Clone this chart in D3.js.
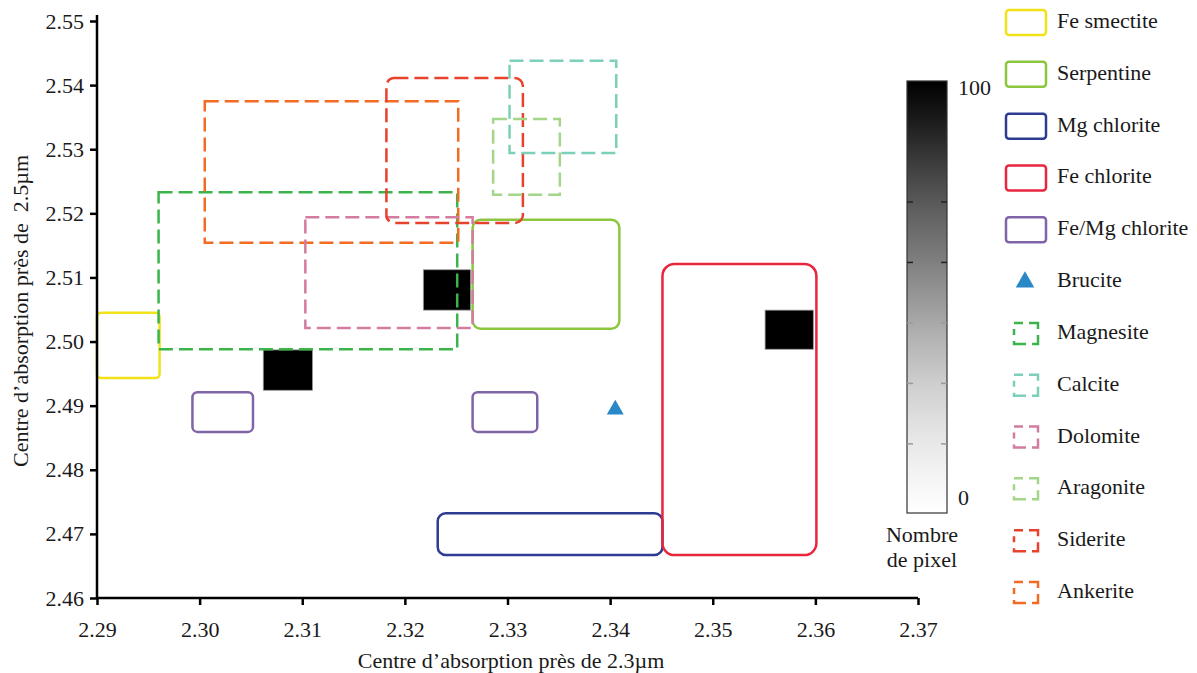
<!DOCTYPE html>
<html><head><meta charset="utf-8">
<script src="https://cdn.jsdelivr.net/npm/d3@7"></script>
<style>body{margin:0;background:#fff}svg{display:block}</style>
</head><body><svg id="c" width="1197" height="673"></svg>
<script>
// ---- data ----
const xTicks = [2.29, 2.30, 2.31, 2.32, 2.33, 2.34, 2.35, 2.36, 2.37];
const yTicks = [2.46, 2.47, 2.48, 2.49, 2.50, 2.51, 2.52, 2.53, 2.54, 2.55];

const mineralNames  = ["Fe smectite","Serpentine","Mg chlorite","Fe chlorite","Fe/Mg chlorite","Brucite","Magnesite","Calcite","Dolomite","Aragonite","Siderite","Ankerite"];
const mineralColors = ["#f1e21a","#8cc63f","#2e3b92","#e8273f","#8064a8","#2a88c8","#3cb44b","#7ccfb9","#d47ba0","#a3d58a","#e8412c","#f26b22"];
const mineralDashed = [false,false,false,false,false,false,true,true,true,true,true,true];

// reference regions (µm)
const regionMineral = ["Fe smectite","Fe/Mg chlorite","Fe/Mg chlorite","Mg chlorite","Fe chlorite","Serpentine","Magnesite","Ankerite","Dolomite","Siderite","Aragonite","Calcite"];
const regionX0 = [2.2900, 2.2993, 2.3266, 2.3232, 2.3451, 2.3266, 2.2960, 2.3005, 2.3103, 2.3182, 2.3286, 2.3302];
const regionX1 = [2.2961, 2.3052, 2.3329, 2.3451, 2.3601, 2.3409, 2.3251, 2.3252, 2.3266, 2.3315, 2.3351, 2.3406];
const regionY0 = [2.4943, 2.4859, 2.4859, 2.4667, 2.4667, 2.5020, 2.4988, 2.5154, 2.5021, 2.5185, 2.5229, 2.5294];
const regionY1 = [2.5045, 2.4921, 2.4921, 2.4732, 2.5121, 2.5190, 2.5233, 2.5375, 2.5194, 2.5411, 2.5347, 2.5438];
const regionRound = [4, 5, 5, 8, 12, 8, 0, 0, 0, 8, 0, 0];

// brucite point
const bruciteX = [2.3405];
const bruciteY = [2.4894];

// pixel density cells
const cellX0 = [2.3062, 2.3218, 2.3551];
const cellX1 = [2.3110, 2.3264, 2.3598];
const cellY0 = [2.4924, 2.5049, 2.4988];
const cellY1 = [2.4987, 2.5112, 2.5049];
const cellCount = [100, 100, 100];

const colorDomain = [0, 100];
const colorbarTicks = [16, 30, 44, 58, 72];

// ---- drawing ----
const FONT = "Liberation Serif";
const svg = d3.select("#c");
const x = d3.scaleLinear().domain([2.29, 2.37]).range([97, 918]);
const y = d3.scaleLinear().domain([2.46, 2.55]).range([598, 21]);
const color = d3.scaleSequential(d3.interpolateGreys).domain(colorDomain);

// cells
const cells = d3.range(cellX0.length);
svg.append("g").selectAll("rect").data(cells).join("rect")
  .attr("x", i => x(cellX0[i])).attr("y", i => y(cellY1[i]))
  .attr("width", i => x(cellX1[i]) - x(cellX0[i]))
  .attr("height", i => y(cellY0[i]) - y(cellY1[i]))
  .attr("fill", i => color(cellCount[i])).attr("stroke", "#999").attr("stroke-width", 0.8);

// regions: solid first, then dashed
const regions = d3.range(regionMineral.length)
  .sort((a, b) => mineralDashed[mineralNames.indexOf(regionMineral[a])] - mineralDashed[mineralNames.indexOf(regionMineral[b])]);
svg.append("g").selectAll("rect").data(regions).join("rect")
  .attr("x", i => x(regionX0[i])).attr("y", i => y(regionY1[i]))
  .attr("width", i => x(regionX1[i]) - x(regionX0[i]))
  .attr("height", i => y(regionY0[i]) - y(regionY1[i]))
  .attr("rx", i => regionRound[i]).attr("ry", i => regionRound[i])
  .attr("fill", "none")
  .attr("stroke", i => mineralColors[mineralNames.indexOf(regionMineral[i])])
  .attr("stroke-width", 2.5)
  .attr("stroke-dasharray", i => mineralDashed[mineralNames.indexOf(regionMineral[i])] ? "14,6" : null);

// brucite
const tri = d3.symbol().type(d3.symbolTriangle).size(125);
svg.append("g").selectAll("path").data(bruciteX).join("path")
  .attr("d", tri).attr("transform", (d, i) => `translate(${x(d)},${y(bruciteY[i])})`)
  .attr("fill", mineralColors[5]);

// axes
const fsTick = 22, fsTitle = 22, fsLeg = 22;
const xAxis = svg.append("g").attr("transform", "translate(0,598)")
  .call(d3.axisBottom(x).tickValues(xTicks).tickFormat(d3.format(".2f")).tickSize(7).tickSizeOuter(0));
const yAxis = svg.append("g").attr("transform", "translate(97,0)")
  .call(d3.axisLeft(y).tickValues(yTicks).tickFormat(d3.format(".2f")).tickSize(7).tickSizeOuter(0));
[xAxis, yAxis].forEach(a => {
  a.attr("font-family", FONT).attr("font-size", fsTick);
  a.select(".domain").attr("stroke", "#000").attr("stroke-width", 2.5);
  a.selectAll(".tick line").attr("stroke", "#000").attr("stroke-width", 2.5);
  a.selectAll(".tick text").attr("font-family", FONT).attr("font-size", fsTick).attr("fill", "#1a1a1a");
});
xAxis.select(".domain").attr("d", "M97,0H918");
yAxis.select(".domain").attr("d", "M0,598V15");
xAxis.selectAll(".tick text").attr("y", 23).attr("dy", "0.71em");
yAxis.selectAll(".tick text").attr("x", -13);

const txt = (xx, yy, s, size, anchor) => svg.append("text").attr("x", xx).attr("y", yy)
  .attr("text-anchor", anchor || "start").attr("font-family", FONT).attr("font-size", size)
  .attr("fill", "#1a1a1a").text(s);

txt(511, 668, "Centre d\u2019absorption près de 2.3µm", fsTitle, "middle");
svg.append("text").attr("transform", "translate(28,311) rotate(-90)").attr("text-anchor", "middle")
  .attr("font-family", FONT).attr("font-size", fsTitle).style("white-space", "pre").attr("fill", "#1a1a1a")
  .text("Centre d\u2019absorption près de  2.5µm");

// colorbar
const cb = d3.scaleLinear().domain(colorDomain).range([513, 81]);
const defs = svg.append("defs");
const grad = defs.append("linearGradient").attr("id", "g").attr("x1", 0).attr("x2", 0).attr("y1", 1).attr("y2", 0);
d3.range(0, 1.001, 0.1).forEach(t => grad.append("stop").attr("offset", t).attr("stop-color", color(colorDomain[0] + t * (colorDomain[1] - colorDomain[0]))));
svg.append("rect").attr("x", 907).attr("y", cb(100)).attr("width", 40).attr("height", cb(0) - cb(100))
  .attr("fill", "url(#g)").attr("stroke", "#333").attr("stroke-width", 1.2);
const cbt = svg.append("g");
colorbarTicks.forEach(v => {
  const c = v >= 58 ? "#222" : "#999";
  cbt.append("line").attr("x1", 907).attr("x2", 913).attr("y1", cb(v)).attr("y2", cb(v)).attr("stroke", c).attr("stroke-width", 1.5);
  cbt.append("line").attr("x1", 941).attr("x2", 947).attr("y1", cb(v)).attr("y2", cb(v)).attr("stroke", c).attr("stroke-width", 1.5);
});
txt(958, cb(100) + 14, colorDomain[1], fsTick);
txt(958, cb(0) - 8, colorDomain[0], fsTick);
txt(922, 542, "Nombre", fsLeg, "middle");
txt(922, 567, "de pixel", fsLeg, "middle");

// legend
const lg = svg.append("g");
const rowY = d3.scaleLinear().domain([0, 11]).range([22, 592]);
mineralNames.forEach((n, i) => {
  const cy = rowY(i);
  if (i === 5) {
    lg.append("path").attr("d", d3.symbol().type(d3.symbolTriangle).size(150)).attr("transform", `translate(1025,${cy + 1})`).attr("fill", mineralColors[i]);
  } else if (mineralDashed[i]) {
    lg.append("rect").attr("x", 1014).attr("y", cy - 10).attr("width", 24).attr("height", 21)
      .attr("fill", "none").attr("stroke", mineralColors[i]).attr("stroke-width", 2.5)
      .attr("stroke-dasharray", "9,6,15,6,15,6,15,6,6");
  } else {
    lg.append("rect").attr("x", 1006).attr("y", cy - 12).attr("width", 40).attr("height", 25).attr("rx", 3)
      .attr("fill", "none").attr("stroke", mineralColors[i]).attr("stroke-width", 2.5);
  }
  lg.append("text").attr("x", 1057).attr("y", cy + 6).attr("font-family", FONT).attr("font-size", fsLeg)
    .attr("fill", "#1a1a1a").text(n);
});
</script></body></html>
